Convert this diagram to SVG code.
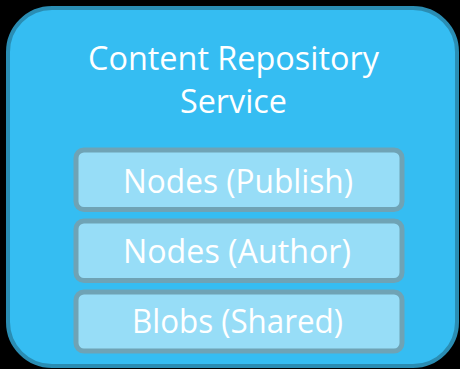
<svg xmlns="http://www.w3.org/2000/svg" width="460" height="369" viewBox="0 0 460 369">
  <style>
    .outer { fill: #35BDF2; stroke: #2A8DB3; stroke-width: 4; }
    .box { fill: #97DDF7; stroke: #6FA3B5; stroke-width: 5; }
    .t { font-family: "Open Sans", "Noto Sans", sans-serif; fill: #FFFFFF; text-anchor: middle; }
    .title { font-size: 32px; }
    .label { font-size: 33px; }
  </style>
  <rect x="0" y="0" width="460" height="369" fill="#000000"/>
  <g id="service">
    <rect class="outer" x="8" y="8" width="449" height="358" rx="44" ry="44"/>
    <text class="t title" x="233.5" y="70" textLength="291" lengthAdjust="spacingAndGlyphs">Content Repository</text>
    <text class="t title" x="233.5" y="113" textLength="107" lengthAdjust="spacingAndGlyphs">Service</text>
  </g>
  <g id="nodes-publish">
    <rect class="box" x="76" y="150" width="326" height="59.5" rx="8" ry="8"/>
    <text class="t label" x="238" y="192.5" textLength="230" lengthAdjust="spacingAndGlyphs">Nodes (Publish)</text>
  </g>
  <g id="nodes-author">
    <rect class="box" x="76" y="221" width="326" height="59.5" rx="8" ry="8"/>
    <text class="t label" x="237" y="262.5" textLength="228" lengthAdjust="spacingAndGlyphs">Nodes (Author)</text>
  </g>
  <g id="blobs-shared">
    <rect class="box" x="76" y="292" width="326" height="59" rx="8" ry="8"/>
    <text class="t label" x="237.5" y="332.5" textLength="211" lengthAdjust="spacingAndGlyphs">Blobs (Shared)</text>
  </g>
  <g id="connectors"/>
</svg>
